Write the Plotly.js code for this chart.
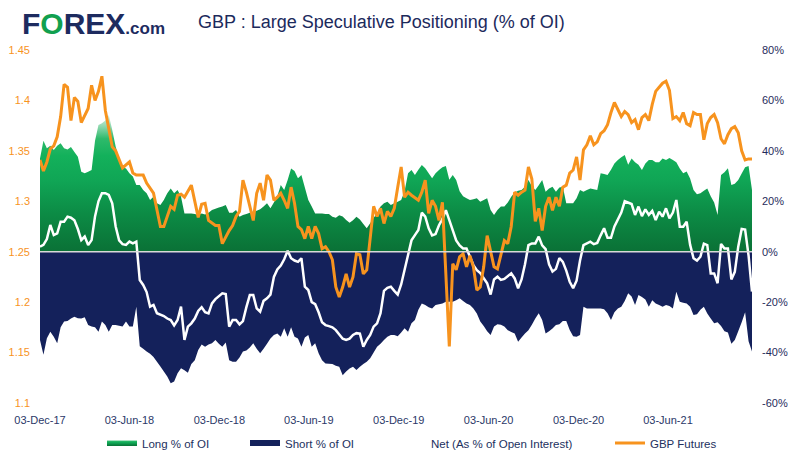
<!DOCTYPE html>
<html><head><meta charset="utf-8">
<script src="https://cdn.plot.ly/plotly-3.0.1.min.js"></script>
<style>html,body{margin:0;padding:0;background:#fff;}#chart{width:800px;height:458px;}</style>
</head><body><div id="chart"></div>
<script>
// ---- categories / ticks ----
const START_DATE = '2017-12-03';
const END_WEEK = 207;
const TICK_DATES = ['2017-12-03','2018-06-03','2018-12-03','2019-06-03','2019-12-03','2020-06-03','2020-12-03','2021-06-03'];
const TICK_LABELS = ['03-Dec-17','03-Jun-18','03-Dec-18','03-Jun-19','03-Dec-19','03-Jun-20','03-Dec-20','03-Jun-21'];
const PRICE_TICKS = [1.1,1.15,1.2,1.25,1.3,1.35,1.4,1.45];
const PRICE_TICK_LABELS = ['1.1','1.15','1.2','1.25','1.3','1.35','1.4','1.45'];
const PCT_TICKS = [-60,-40,-20,0,20,40,60,80];
const PCT_TICK_LABELS = ['-60%','-40%','-20%','0%','20%','40%','60%','80%'];

// ---- weekly positioning, % of open interest (weeks 0..207 from 03-Dec-17) ----
const LONG_PCT = [
 37,44,41,42,40.3,42,43,41,40.5,41.5,
 39.5,37.7,31.7,31.1,31.7,32.4,44,50.3,50.9,52,
 54.2,48.3,41.7,37,33.7,33,31.1,29.8,26.5,26.5,
 24.5,23.2,20.5,21.8,19.2,18.5,20.5,23.2,25.1,23.2,
 24.5,21.8,15.2,15.2,15.2,15.0,14.6,15.2,14.8,15.5,
 16.5,17.0,17.5,17.9,18.5,15.5,15.5,16.5,13.9,14.6,
 15.0,15.5,15.9,16.2,16.8,17.9,19.2,17.2,19.5,22,
 26.5,24.5,28.4,33,32,29.1,30.4,25.5,20.5,17.9,
 15.2,15.2,15.2,15.0,15.0,13.9,13.5,14.5,14.0,12.6,
 11.5,12.5,13.9,12.8,11.0,9.3,11.3,13.5,15.2,17.9,
 19.2,19.8,18.5,19.2,19.8,20.5,24,31.1,32.4,30.4,
 32.5,34.4,33.1,31.1,29.1,31.1,32.4,33.5,34.0,28.5,
 30.4,28.4,24,22,21.2,20.5,20.8,21.2,19.8,20.5,
 21.2,16.5,14.6,16.5,17.9,17.9,19.5,21.8,23.5,24.2,
 24.5,25.8,28.4,26,24.5,26.4,28.4,23.8,25.1,25.8,
 23.8,25.5,25.8,19.2,19.2,19.2,21.2,24.5,23.8,24.5,
 25.1,24.8,24.5,31.1,30.8,30.4,32.5,35,36.4,37.5,
 38.4,34.5,37,35.5,34.5,32.4,35,36.4,36.4,35.5,
 35.5,37,36.4,37.2,36.4,35.5,33,31.1,31.8,29,
 24.5,22.8,23.2,24.2,25.1,22,19.5,14.6,30.4,31.5,
 33.1,26.5,27,28.4,31,33.5,34,24.5];
const SHORT_PCT = [
 -35,-40.9,-34.3,-31.7,-33.7,-36.3,-30,-27.7,-27.5,-26.5,
 -25.8,-26.4,-26.5,-26,-29.1,-29.7,-30,-31.7,-27.7,-29.1,
 -31.7,-29.1,-29.1,-29.4,-29.7,-27.7,-29.7,-29.7,-21.8,-37.5,
 -38.5,-39.6,-40.5,-41.8,-43.6,-45.5,-47.5,-49.5,-52.2,-51.5,
 -48.2,-46.2,-47,-48,-44.5,-43,-39,-36.8,-37.7,-36.8,
 -36.3,-35,-36.5,-37.7,-36,-43,-43.6,-43.6,-42,-39.6,
 -39.2,-38,-36.3,-38.5,-40.3,-38.5,-36.5,-34.4,-33,-32.4,
 -33.7,-30.4,-33.7,-30,-33.7,-34.4,-37.7,-34,-33,-37.7,
 -36.3,-40.3,-43,-44.3,-44.4,-44.5,-45.2,-45.6,-49,-47.5,
 -46.3,-45.6,-46.9,-45.6,-44.5,-43.6,-42.3,-40,-37.7,-36.5,
 -35,-33.7,-33,-33,-33.5,-32,-30.4,-31.7,-28.4,-27.1,
 -23,-20.5,-21.1,-22,-22.5,-21.1,-20.8,-20.5,-19.8,-19.8,
 -19.8,-19.2,-18.5,-19.5,-20.5,-21.1,-22.5,-24.5,-27.7,-29.5,
 -31.5,-33,-29.7,-28.8,-29,-29.7,-31.1,-31.8,-32.4,-35.7,
 -34,-32.4,-31.1,-29,-26.5,-24.4,-27.1,-32.4,-31.5,-30.5,
 -29.1,-28.8,-27.5,-27.5,-31,-33.5,-33.7,-33,-21.8,-22.5,
 -22.5,-22.5,-22.5,-22.5,-22.8,-24.4,-27.1,-24,-22.5,-21.8,
 -19.5,-16.5,-17.8,-21.1,-17.2,-18,-19,-21.8,-19.2,-20.5,
 -21.1,-21.8,-21.1,-21.5,-22.5,-15.9,-19.8,-20.2,-20.5,-21.8,
 -25.1,-24.8,-23,-21.8,-24.5,-26.5,-28.4,-28,-29.5,-31.5,
 -32,-36.5,-35,-31.5,-28,-24,-35.5,-39.6];
const NET_PCT = [
 2.0,2.7,5,10.6,6.6,7.3,11.9,11.9,13.9,13.5,
 12.5,9,4.6,6.0,2.7,4.6,14,20,23.2,23.2,
 22.5,19.2,10,4.5,3.0,2.7,4.0,3.3,4.0,-11.2,
 -13.2,-16,-21.8,-21.1,-24.4,-24.8,-25.5,-26.5,-27.1,-29.2,
 -27.1,-21.8,-35,-29.7,-28.4,-26.5,-23.5,-22,-24,-24.5,
 -20.5,-18.8,-17.5,-16.5,-16.8,-29.7,-27.1,-27.1,-28.8,-27.5,
 -22,-17.2,-17.2,-22.5,-23.8,-19.5,-18.5,-17,-10,-7,
 -5.5,-3,0.4,-2.6,-3.5,-4.0,-2.6,-13.9,-15.2,-20,
 -20.8,-24,-28,-29.1,-29.5,-30,-31.1,-33,-34.5,-35,
 -34.5,-33,-32.3,-32.5,-37.7,-35,-33,-29.7,-28.4,-24.4,
 -15.5,-14.3,-13.9,-15.5,-17,-13,-7.5,-1,4.5,6.6,
 8.6,15.5,13.9,9.3,6.5,7,10.5,13,16.5,12.5,
 8.6,4.5,2.5,1.3,1.3,-1.8,-5.3,-7.3,-8.5,-10.5,
 -12.5,-17,-11,-9.9,-11.2,-10.8,-9.5,-8.6,-10.6,-14.5,
 -11,-5,2.6,3.3,3.3,6.0,2.5,1.0,-5,-7.9,
 -6.8,-2.5,-4.0,-7.5,-11.9,-14.5,-11.5,-3.5,2.6,3.3,
 4.0,3.0,3.5,6.5,9.3,5.5,5.5,10,12.6,15.5,
 20,19.5,18.9,14.6,17.9,14.1,16.8,14.6,16.2,12.6,
 15.9,13.9,17.2,13.2,15.5,20.5,9.9,9.9,11.9,2.8,
 -2.6,-3.5,-2.0,3.2,2.6,-8.6,-8.6,-12.5,3.1,1.3,
 1.3,-11,-8,2,9,8.8,-1.5,-15.8];

// ---- GBP futures price (week index, price) ----
const GBP_WEEKS = [
 0,1,2,3,4,5,6,7,8,9,10,11,12,14,15,16,17,18,19,21,22,24,26,27,28,30,31,33,35,36,38,39,40,41,42,44,
 46,47,48,49,51,52,53,54,55,56,57,58,59,60,61,62,63,64,65,66,67,68,69,70,71,72,73,74,75,76,77,78,79,
 80,81,82,83,84,85,86,87,88,89,90,91,92,93,94,95,96,97,98,99,100,101,102,103,104,105,106,107,108,110,
 111,112,113,114,115,116,117,118,119,120,121,122,123,124,125,126,127,128,129,130,131,132,133,134,135,
 136,137,138,139,140,141,142,143,144,145,146,147,148,149,150,151,152,153,154,155,156,157,158,159,160,
 161,162,163,164,165,166,167,168,169,170,171,172,173,174,175,176,177,178,179,180,181,182,183,184,185,
 186,187,188,189,190,191,192,193,194,195,196,197,198,199,200,201,202,203,204,205,206,207];
const GBP_PRICE = [
 1.341,1.330,1.339,1.352,1.355,1.364,1.384,1.416,1.413,1.380,1.403,1.399,1.378,1.392,1.415,1.400,1.409,1.424,1.390,1.354,1.350,1.333,1.339,1.328,1.326,1.326,1.318,1.308,1.275,1.275,1.295,1.292,1.306,1.307,1.304,1.316,
 1.284,1.297,1.298,1.281,1.276,1.276,1.258,1.265,1.271,1.276,1.285,1.290,1.321,1.309,1.295,1.281,1.308,1.318,1.301,1.326,1.321,1.301,1.304,1.308,1.301,1.293,1.314,1.298,1.275,1.272,1.263,1.275,1.263,
 1.275,1.268,1.253,1.255,1.250,1.242,1.215,1.205,1.215,1.228,1.215,1.225,1.248,1.247,1.228,1.232,1.261,1.295,1.285,1.293,1.278,1.290,1.285,1.293,1.314,1.334,1.304,1.309,1.306,1.301,
 1.309,1.321,1.288,1.301,1.295,1.281,1.299,1.220,1.156,1.238,1.232,1.245,1.248,1.235,1.246,1.235,1.212,1.215,1.235,1.266,1.250,1.235,1.233,1.248,1.261,
 1.258,1.275,1.309,1.306,1.309,1.311,1.334,1.322,1.280,1.293,1.271,1.295,1.304,1.291,1.304,1.295,1.314,1.316,1.328,1.331,1.344,1.321,1.351,1.356,1.365,
 1.356,1.359,1.367,1.370,1.376,1.388,1.398,1.391,1.384,1.389,1.386,1.378,1.381,1.371,1.383,1.386,1.380,1.396,1.409,1.413,1.417,1.419,1.410,1.382,1.384,
 1.380,1.388,1.377,1.375,1.388,1.386,1.386,1.361,1.377,1.383,1.386,1.378,1.362,1.357,1.366,1.372,1.374,1.368,1.350,1.341,1.342,1.342];

// ---- helpers (positions only) ----
function weekToDate(w){
  const t = Date.UTC(2017,11,3) + w*7*86400000;
  return new Date(t).toISOString().slice(0,10);
}
const COT_DATES = LONG_PCT.map((_,i)=>weekToDate(i));
const GBP_DATES = GBP_WEEKS.map(weekToDate);

const W=800,H=458, ML=40, MR=48, MT=50, MB=55;
const PW = W-ML-MR, PH = H-MT-MB;
const px2x = p => (p-ML)/PW;
const px2y = p => (H-MB-p)/PH;

const NAVY = '#14215b';
const FONT = 'Liberation Sans, Arial, sans-serif';

// percent series on yaxis (right side); price on yaxis2 (left side, overlaying -> drawn on top)
const traces = [
  {type:'scatter', mode:'none', name:'Long % of OI', x:COT_DATES, y:LONG_PCT, yaxis:'y',
   fill:'tozeroy', fillcolor:'#11a956',
   fillgradient:{type:'vertical', start:0, stop:56,
     colorscale:[[0,'#0a7136'],[0.27,'#0c8b45'],[0.5,'#10a555'],[0.68,'#13b15b'],[0.8,'#2eba6b'],[0.9,'#9bdcb8'],[1,'#f4fbf7']]},
   legend:'legend', hoverinfo:'skip'},
  {type:'scatter', mode:'none', name:'Short % of OI', x:COT_DATES, y:SHORT_PCT, yaxis:'y',
   fill:'tozeroy', fillcolor:NAVY, legend:'legend2', hoverinfo:'skip'},
  {type:'scatter', mode:'lines', name:'Net (As % of Open Interest)', x:COT_DATES, y:NET_PCT, yaxis:'y',
   line:{color:'#ffffff', width:2.5}, legend:'legend3', hoverinfo:'skip'},
  {type:'scatter', mode:'lines', name:'GBP Futures', x:GBP_DATES, y:GBP_PRICE, yaxis:'y2',
   line:{color:'#f7931e', width:3}, legend:'legend4', hoverinfo:'skip'}
];

const legFont = {family:FONT, size:11.5, color:'#22305e'};
const legBase = {orientation:'h', xanchor:'left', yanchor:'middle', y:px2y(443), bgcolor:'rgba(0,0,0,0)', font:legFont, borderwidth:0};

const layout = {
  width:W, height:H, margin:{l:ML,r:MR,t:MT,b:MB,pad:0,autoexpand:false},
  paper_bgcolor:'#ffffff', plot_bgcolor:'#ffffff',
  font:{family:FONT},
  title:{text:'GBP : Large Speculative Positioning (% of OI)', font:{family:FONT, size:18, color:'#1c2a5c'},
         x:198/W, xanchor:'left', xref:'container', y:1-22/H, yanchor:'middle', yref:'container'},
  xaxis:{type:'date', range:[START_DATE, weekToDate(END_WEEK)], tickvals:TICK_DATES, ticktext:TICK_LABELS,
         showgrid:false, zeroline:false, showline:false, ticks:'', tickfont:{family:FONT,size:11,color:'#2b3868'},
         ticklabelstandoff:9, automargin:false},
  yaxis:{range:[-60,80], tickvals:PCT_TICKS, ticktext:PCT_TICK_LABELS, side:'right',
          showgrid:false, zeroline:false, showline:false, ticks:'', tickfont:{family:FONT,size:11,color:'#1f2b5b'},
          ticklabelstandoff:9, automargin:false},
  yaxis2:{range:[1.1,1.45], tickvals:PRICE_TICKS, ticktext:PRICE_TICK_LABELS, overlaying:'y', side:'left',
         showgrid:false, zeroline:false, showline:false, ticks:'', tickfont:{family:FONT,size:11,color:'#f7931e'},
         ticklabelstandoff:9, automargin:false},
  shapes:[{type:'line', xref:'paper', x0:0, x1:1, yref:'y', y0:0, y1:0, line:{color:'#d9d9d9', width:1.5}, layer:'above'}],
  showlegend:true,
  legend: Object.assign({}, legBase, {x:px2x(102)}),
  legend2: Object.assign({}, legBase, {x:px2x(245)}),
  legend3: Object.assign({}, legBase, {x:px2x(391)}),
  legend4: Object.assign({}, legBase, {x:px2x(610)}),
  annotations:[
    {xref:'paper', yref:'paper', x:px2x(20), y:px2y(23), xanchor:'left', yanchor:'middle', showarrow:false,
     text:"<b>F<span style='color:#11a04f'>O</span>REX<span style='font-size:17px'>.com</span></b>",
     font:{family:FONT, size:30, color:'#1d2b5f'}}
  ]
};

Plotly.newPlot('chart', traces, layout, {staticPlot:true, displayModeBar:false});
</script>
</body></html>
